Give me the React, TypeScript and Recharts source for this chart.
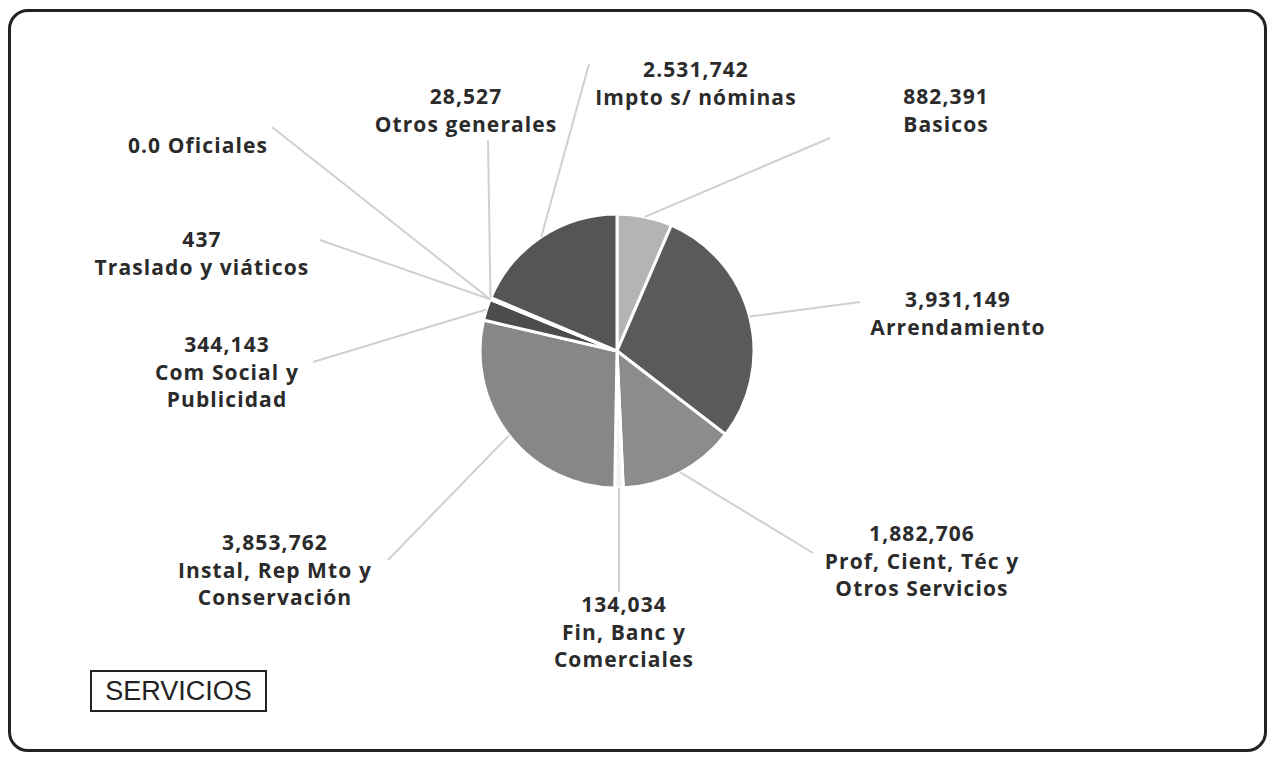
import { PieChart, Pie, Cell } from 'recharts';

const categories = [
    'Basicos',
    'Arrendamiento',
    'Prof, Cient, Téc y Otros Servicios',
    'Fin, Banc y Comerciales',
    'Instal, Rep Mto y Conservación',
    'Com Social y Publicidad',
    'Traslado y viáticos',
    'Oficiales',
    'Otros generales',
    'Impto s/ nóminas',
];
const values = [882391, 3931149, 1882706, 134034, 3853762, 344143, 437, 0, 28527, 2531742];
// value text as printed on the original (keeps its odd formats)
const valueLabels = ['882,391', '3,931,149', '1,882,706', '134,034', '3,853,762', '344,143', '437', '0.0', '28,527', '2.531,742'];
// how each label is split into lines
const labelLines = [
    ['882,391', 'Basicos'],
    ['3,931,149', 'Arrendamiento'],
    ['1,882,706', 'Prof, Cient, Téc y', 'Otros Servicios'],
    ['134,034', 'Fin, Banc y', 'Comerciales'],
    ['3,853,762', 'Instal, Rep Mto y', 'Conservación'],
    ['344,143', 'Com Social y', 'Publicidad'],
    ['437', 'Traslado y viáticos'],
    ['0.0 Oficiales'],
    ['28,527', 'Otros generales'],
    ['2.531,742', 'Impto s/ nóminas'],
];

const COLORS = ['#b4b4b4', '#5a5a5a', '#8c8c8c', '#f2f2f2', '#878787', '#4c4c4c', '#555555', '#555555', '#555555', '#555555'];

// label layout: text centre x, first line y, leader line end point
const LABEL_POS = [
    { x: 946, y: 97, lx: 830, ly: 138 },
    { x: 958, y: 300, lx: 860, ly: 302 },
    { x: 922, y: 534, lx: 813, ly: 553 },
    { x: 624, y: 605, lx: 619, ly: 592 },
    { x: 275, y: 543, lx: 388, ly: 560 },
    { x: 227, y: 345, lx: 313, ly: 362 },
    { x: 202, y: 240, lx: 320, ly: 240 },
    { x: 198, y: 146, lx: 272, ly: 127 },
    { x: 466, y: 97, lx: 488, ly: 140 },
    { x: 696, y: 70, lx: 589, ly: 64 },
];

const data = categories.map((name, i) => ({ name, value: values[i], text: valueLabels[i] }));

const RAD = Math.PI / 180;

const renderLabel = (props: any) => {
    const { cx, cy, outerRadius, midAngle, index } = props;
    const p = LABEL_POS[index];
    const sx = cx + outerRadius * Math.cos(-midAngle * RAD);
    const sy = cy + outerRadius * Math.sin(-midAngle * RAD);
    return (
        <g key={`lbl-${index}`}>
            <line x1={sx} y1={sy} x2={p.lx} y2={p.ly} stroke="#d0d0d0" strokeWidth={2} />
            <text
                x={p.x}
                y={p.y}
                textAnchor="middle"
                fill="#2b2b2b"
                fontFamily="'Open Sans', Lato, sans-serif"
                fontWeight="bold"
                fontSize={21}
                letterSpacing={1.1}
            >
                {labelLines[index].map((ln, j) => (
                    <tspan key={j} x={p.x} dy={j === 0 ? 7 : 27.5}>{ln}</tspan>
                ))}
            </text>
        </g>
    );
};

export default function App() {
    return (
        <div style={{ position: 'absolute', left: 0, top: 0, width: 1273, height: 763, background: '#fff' }}>
            <div style={{
                position: 'absolute', left: 8, top: 9, width: 1259, height: 743,
                border: '3px solid #222', borderRadius: 20, boxSizing: 'border-box',
            }} />
            <PieChart width={1273} height={763} margin={{ top: 0, right: 0, bottom: 0, left: 0 }} style={{ position: 'absolute', left: 0, top: 0 }}>
                <Pie
                    data={data}
                    dataKey="value"
                    nameKey="name"
                    cx={617}
                    cy={351}
                    outerRadius={137}
                    startAngle={90}
                    endAngle={-270}
                    stroke="#ffffff"
                    strokeWidth={3}
                    label={renderLabel}
                    labelLine={false}
                    isAnimationActive={false}
                >
                    {data.map((entry, index) => (
                        <Cell key={`cell-${index}`} fill={COLORS[index % COLORS.length]} />
                    ))}
                </Pie>
            </PieChart>
            <div style={{
                position: 'absolute', left: 90, top: 670, width: 177, height: 42, boxSizing: 'border-box',
                border: '2px solid #222', fontFamily: "'Liberation Sans', Arial, sans-serif", fontSize: 27,
                color: '#222', display: 'flex', alignItems: 'center', justifyContent: 'center',
            }}>
                SERVICIOS
            </div>
        </div>
    );
}
